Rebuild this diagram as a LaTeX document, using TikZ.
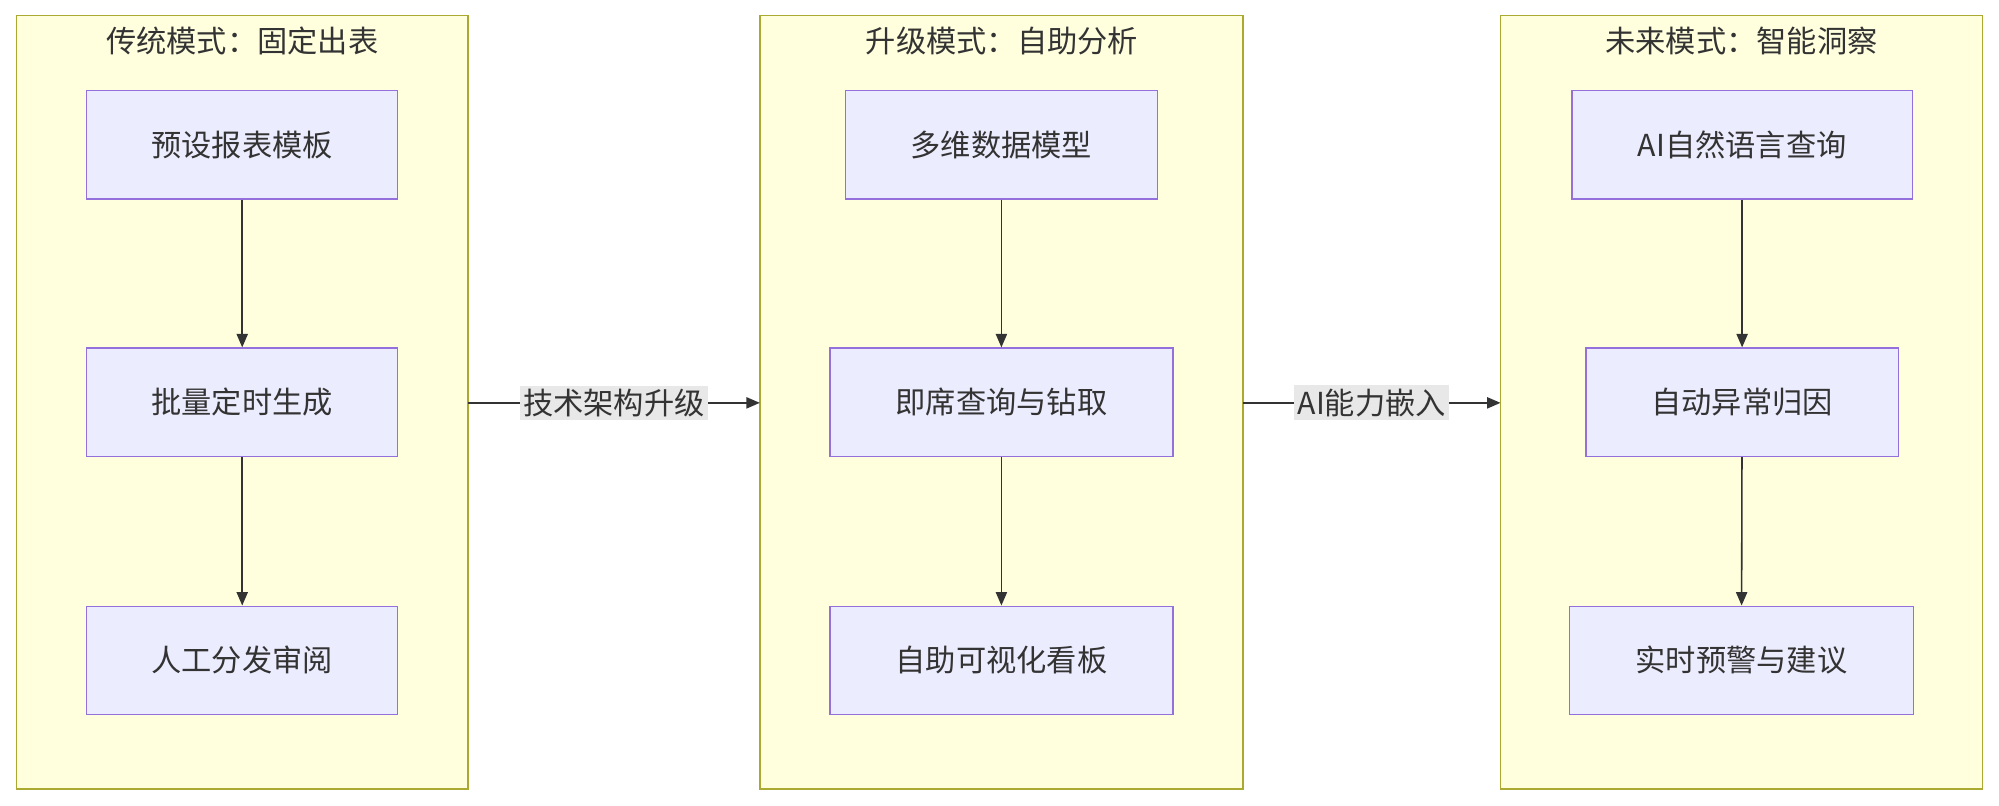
\documentclass[tikz,border=0pt]{standalone}
\usepackage{fontspec}
\setmainfont{Noto Sans CJK SC}
\usetikzlibrary{arrows.meta}
\definecolor{cfill}{HTML}{FFFFDE}
\definecolor{cbord}{HTML}{AAAA33}
\definecolor{nfill}{HTML}{ECECFF}
\definecolor{nbord}{HTML}{9370DB}
\definecolor{edge}{HTML}{333333}
\definecolor{lbg}{HTML}{E8E8E8}
\begin{document}
\begin{tikzpicture}[x=0.04cm,y=-0.04cm,
  every node/.style={font=\fontsize{27}{32}\selectfont, text=edge},
  clus/.style={draw=cbord, fill=cfill, line width=1.2pt},
  box/.style={draw=nbord, fill=nfill, line width=1.2pt, inner sep=0pt},
  arr/.style={draw=edge, line width=1.4pt, -{Triangle[length=12pt,width=10pt]}},
  lab/.style={fill=lbg, inner sep=3pt}]
\useasboundingbox (0,0) rectangle (1568,632);
\draw[clus] (13,12) rectangle (367,619);
\draw[clus] (596,12) rectangle (975,619);
\draw[clus] (1177,12) rectangle (1555,619);
\node (t1) at (190,32) {传统模式：固定出表};
\node (t2) at (786,32) {升级模式：自助分析};
\node (t3) at (1366,32) {未来模式：智能洞察};
\node[box, minimum width=244*0.04cm, minimum height=85*0.04cm] (a1) at (190,113.5) {预设报表模板};
\node[box, minimum width=244*0.04cm, minimum height=85*0.04cm] (a2) at (190,315.5) {批量定时生成};
\node[box, minimum width=244*0.04cm, minimum height=85*0.04cm] (a3) at (190,518) {人工分发审阅};
\node[box, minimum width=245*0.04cm, minimum height=85*0.04cm] (b1) at (785.5,113.5) {多维数据模型};
\node[box, minimum width=269*0.04cm, minimum height=85*0.04cm] (b2) at (785.5,315.5) {即席查询与钻取};
\node[box, minimum width=269*0.04cm, minimum height=85*0.04cm] (b3) at (785.5,518) {自助可视化看板};
\node[box, minimum width=267*0.04cm, minimum height=85*0.04cm] (c1) at (1366.5,113.5) {AI自然语言查询};
\node[box, minimum width=245*0.04cm, minimum height=85*0.04cm] (c2) at (1366.5,315.5) {自动异常归因};
\node[box, minimum width=270*0.04cm, minimum height=85*0.04cm] (c3) at (1366,518) {实时预警与建议};
\draw[arr] (a1) -- (a2); \draw[arr] (a2) -- (a3);
\draw[arr] (b1) -- (b2); \draw[arr] (b2) -- (b3);
\draw[arr] (c1) -- (c2); \draw[arr] (c2) -- (c3);
\coordinate (e1s) at (367,316); \coordinate (e1t) at (596,316);
\coordinate (e2s) at (975,316); \coordinate (e2t) at (1177,316);
\draw[arr] (e1s) -- node[lab] (l1) {技术架构升级} (e1t);
\draw[arr] (e2s) -- node[lab] (l2) {AI能力嵌入} (e2t);
\end{tikzpicture}
\end{document}
